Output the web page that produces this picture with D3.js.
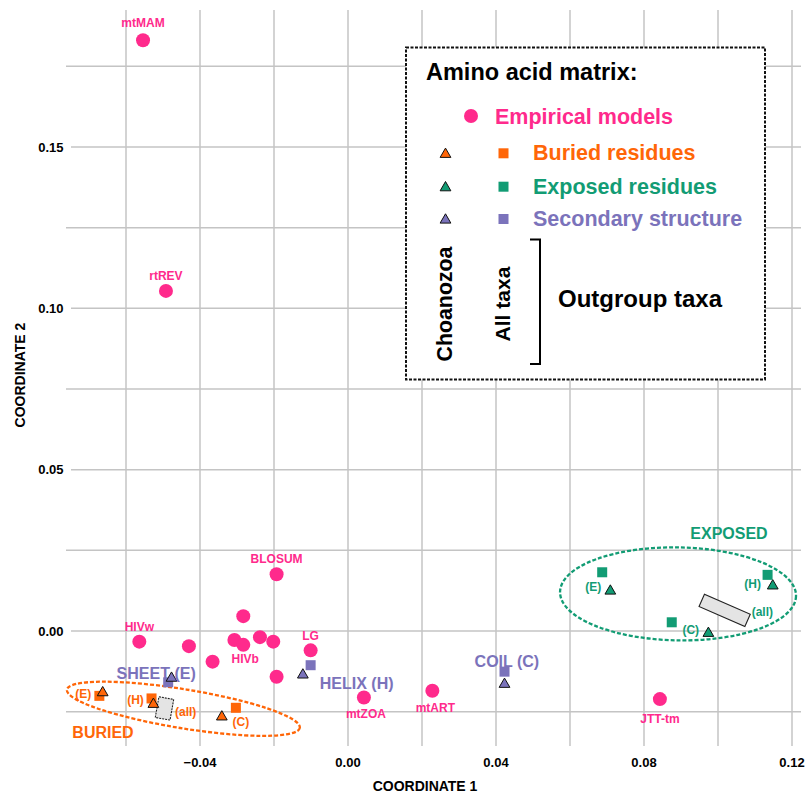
<!DOCTYPE html>
<html><head><meta charset="utf-8">
<script src="https://cdn.jsdelivr.net/npm/d3@7"></script>
<style>body{margin:0;background:#fff}svg{display:block;font-family:"Liberation Sans",Arial,sans-serif;font-weight:bold}</style>
</head><body>
<script>
// ---- data ----
const xTicks = [-0.04, 0.00, 0.04, 0.08, 0.12];
const xGrid = [-0.06, -0.04, -0.02, 0, 0.02, 0.04, 0.06, 0.08, 0.10, 0.12];
const yTicks = [0.00, 0.05, 0.10, 0.15];
const yGrid = [-0.025, 0, 0.025, 0.05, 0.075, 0.10, 0.125, 0.15, 0.175];

const empNames = ["mtMAM","rtREV","BLOSUM","","HIVw","","","","HIVb","","","","LG","mtZOA","mtART","JTT-tm"];
const empX = [-0.0554,-0.0492,-0.0193,-0.0283,-0.0564,-0.0430,-0.0366,-0.0307,-0.0283,-0.0238,-0.0202,-0.0193,-0.0101,0.0043,0.0228,0.0843];
const empY = [0.1831,0.1054,0.0176,0.0046,-0.0033,-0.0047,-0.0095,-0.0028,-0.0043,-0.0019,-0.0033,-0.0142,-0.0060,-0.0206,-0.0185,-0.0211];

const groups = ["Buried","Exposed","Secondary"];
const partLabels = ["(E)","(H)","(C)"];
// squares = All taxa, triangles = Choanozoa ; order E, H, C
const sqX = {Buried:[-0.0672,-0.0531,-0.0303], Exposed:[0.0687,0.1134,0.0875], Secondary:[-0.0486,-0.0101,0.0423]};
const sqY = {Buried:[-0.0201,-0.0209,-0.0238], Exposed:[0.0182,0.0174,0.0027], Secondary:[-0.0159,-0.0106,-0.0126]};
const triX = {Buried:[-0.0663,-0.0526,-0.0341], Exposed:[0.0709,0.1148,0.0974], Secondary:[-0.0477,-0.0122,0.0423]};
const triY = {Buried:[-0.0188,-0.0224,-0.0263], Exposed:[0.0127,0.0143,-0.0004], Secondary:[-0.0143,-0.0133,-0.0162]};
const secNames = ["SHEET (E)","HELIX (H)","COIL (C)"];

// "all" outgroup boxes (center value)
const allX = {Buried:-0.0496, Exposed:0.1018};
const allY = {Buried:-0.0240, Exposed:0.0064};
// ellipse centers
const ellX = {Buried:-0.0445, Exposed:0.0892};
const ellY = {Buried:-0.0241, Exposed:0.0115};

const colors = {Emp:"#ff2a8c", Buried:"#ff6608", Exposed:"#129c74", Secondary:"#7b73bb"};

// ---- layout (label offsets in px) ----
const empLabelDy = {mtMAM:-13.5, rtREV:-11, BLOSUM:-11, HIVw:-11, LG:-10, HIVb:18.5, mtZOA:21, mtART:21, "JTT-tm":23.5};
const empLabelDx = {mtZOA:2, mtART:3, HIVb:2};
const partOffsets = {Buried:[[-16,2.5],[-16,6],[5,18]], Exposed:[[-9,18.5],[-15,13.5],[19,11.5]]};
const secOff = [[-12,-9.6],[46,18],[2.4,-10.7]];

// ---- chart ----
const W=807,H=794;
const svg=d3.select("body").append("svg").attr("width",W).attr("height",H);
const x=d3.scaleLinear().domain([-0.04,0.12]).range([200,792]);
const y=d3.scaleLinear().domain([0,0.15]).range([631,147]);
const gridC="#c4c4c4";

svg.append("g").selectAll("line").data(xGrid).join("line")
  .attr("x1",d=>x(d)).attr("x2",d=>x(d)).attr("y1",10).attr("y2",746)
  .attr("stroke",gridC).attr("stroke-width",1.5);
svg.append("g").selectAll("line").data(yGrid).join("line")
  .attr("x1",d=>yTicks.some(t=>Math.abs(t-d)<1e-9)?71:66).attr("x2",801).attr("y1",d=>y(d)).attr("y2",d=>y(d))
  .attr("stroke",gridC).attr("stroke-width",1.5);

svg.append("g").selectAll("text").data(xTicks).join("text")
  .attr("x",d=>x(d)).attr("y",766.5).attr("text-anchor","middle")
  .attr("font-size",13).text(d=>d3.format(".2f")(d));
svg.append("g").selectAll("text").data(yTicks).join("text")
  .attr("x",63.5).attr("y",d=>y(d)+4.7).attr("text-anchor","end")
  .attr("font-size",13).text(d=>d3.format(".2f")(d));
svg.append("text").attr("x",425).attr("y",791).attr("text-anchor","middle").attr("font-size",14).text("COORDINATE 1");
svg.append("text").attr("transform","translate(25,375) rotate(-90)").attr("text-anchor","middle").attr("font-size",14).text("COORDINATE 2");

// ellipses
const ellDims={Buried:{rx:118,ry:19.5,rot:9.3},Exposed:{rx:118,ry:46.5,rot:1}};
["Buried","Exposed"].forEach(g=>{
  svg.append("ellipse").attr("transform",`translate(${x(ellX[g])},${y(ellY[g])}) rotate(${ellDims[g].rot})`)
    .attr("rx",ellDims[g].rx).attr("ry",ellDims[g].ry).attr("fill","none")
    .attr("stroke",colors[g]).attr("stroke-width",2.3).attr("stroke-dasharray","4,2");
});
svg.append("text").attr("x",103).attr("y",737.5).attr("text-anchor","middle").attr("font-size",16).attr("fill",colors.Buried).text("BURIED");
svg.append("text").attr("x",729).attr("y",539).attr("text-anchor","middle").attr("font-size",16).attr("fill",colors.Exposed).text("EXPOSED");

// "all" boxes
const allDims={Buried:{w:15,h:21,rot:10},Exposed:{w:50,h:13.5,rot:23.6}};
["Buried","Exposed"].forEach(g=>{
  const d=allDims[g];
  svg.append("rect").attr("transform",`translate(${x(allX[g])},${y(allY[g])}) rotate(${d.rot})`)
    .attr("x",-d.w/2).attr("y",-d.h/2).attr("width",d.w).attr("height",d.h)
    .attr("fill","#e4e4e4").attr("stroke","#222").attr("stroke-width",1.1)
    .attr("stroke-dasharray",g==="Buried"?"2,1":null);
});
svg.append("text").attr("x",x(allX.Buried)+10.5).attr("y",y(allY.Buried)+8).attr("font-size",12).attr("fill",colors.Buried).text("(all)");
svg.append("text").attr("x",x(allX.Exposed)+27).attr("y",y(allY.Exposed)+5.5).attr("font-size",12).attr("fill",colors.Exposed).text("(all)");

// empirical circles
const emp=empX.map((v,i)=>({x:v,y:empY[i],n:empNames[i]}));
svg.append("g").selectAll("circle").data(emp).join("circle")
  .attr("cx",d=>x(d.x)).attr("cy",d=>y(d.y)).attr("r",7).attr("fill",colors.Emp);
svg.append("g").selectAll("text").data(emp.filter(d=>d.n)).join("text")
  .attr("x",d=>x(d.x)+(empLabelDx[d.n]||0)).attr("y",d=>y(d.y)+empLabelDy[d.n])
  .attr("text-anchor","middle").attr("font-size",12).attr("fill",colors.Emp).text(d=>d.n);

// squares & triangles
const tri=d3.symbol().type(d3.symbolTriangle).size(50);
groups.forEach(g=>{
  const sq=sqX[g].map((v,i)=>({x:v,y:sqY[g][i]}));
  const tr=triX[g].map((v,i)=>({x:v,y:triY[g][i]}));
  svg.append("g").selectAll("rect").data(sq).join("rect")
    .attr("x",d=>x(d.x)-5).attr("y",d=>y(d.y)-5).attr("width",10).attr("height",10).attr("fill",colors[g]);
  svg.append("g").selectAll("path").data(tr).join("path")
    .attr("transform",d=>`translate(${x(d.x)},${y(d.y)+1})`).attr("d",tri)
    .attr("fill",colors[g]).attr("stroke","#111").attr("stroke-width",1);
});
// part labels
["Buried","Exposed"].forEach(g=>{
  partLabels.forEach((t,i)=>{
    svg.append("text").attr("x",x(sqX[g][i])+partOffsets[g][i][0]).attr("y",y(sqY[g][i])+partOffsets[g][i][1])
      .attr("text-anchor","middle").attr("font-size",12).attr("fill",colors[g]).text(t);
  });
});
secNames.forEach((t,i)=>{
  svg.append("text").attr("x",x(sqX.Secondary[i])+secOff[i][0]).attr("y",y(sqY.Secondary[i])+secOff[i][1]+6)
    .attr("text-anchor","middle").attr("font-size",16).attr("fill",colors.Secondary).text(t);
});

// legend
const L=svg.append("g");
L.append("rect").attr("x",406).attr("y",47.5).attr("width",359).attr("height",332)
  .attr("fill","#fff").attr("stroke","#111").attr("stroke-width",2).attr("stroke-dasharray","3,1.5");
L.append("text").attr("x",426).attr("y",79.5).attr("font-size",23.5).attr("fill","#000").text("Amino acid matrix:");
L.append("circle").attr("cx",471).attr("cy",116).attr("r",7).attr("fill",colors.Emp);
L.append("text").attr("x",495).attr("y",123.5).attr("font-size",21.5).attr("fill",colors.Emp).text("Empirical models");
const legItems=[["Buried","Buried residues",153.3],["Exposed","Exposed residues",186.7],["Secondary","Secondary structure",219]];
legItems.forEach(([g,t,yy])=>{
  L.append("path").attr("transform",`translate(445.5,${yy+1})`).attr("d",tri).attr("fill",colors[g]).attr("stroke","#111").attr("stroke-width",1);
  L.append("rect").attr("x",498.5).attr("y",yy-5).attr("width",10).attr("height",10).attr("fill",colors[g]);
  L.append("text").attr("x",533).attr("y",yy+7).attr("font-size",21.5).attr("fill",colors[g]).text(t);
});
L.append("text").attr("transform","translate(451.5,304) rotate(-90)").attr("text-anchor","middle").attr("font-size",21.3).attr("fill","#000").text("Choanozoa");
L.append("text").attr("transform","translate(510,304) rotate(-90)").attr("text-anchor","middle").attr("font-size",21.1).attr("fill","#000").text("All taxa");
L.append("path").attr("d","M530,239.5H540V364H530").attr("fill","none").attr("stroke","#000").attr("stroke-width",2);
L.append("text").attr("x",558).attr("y",306.5).attr("font-size",24).attr("fill","#000").text("Outgroup taxa");
</script>
</body></html>
